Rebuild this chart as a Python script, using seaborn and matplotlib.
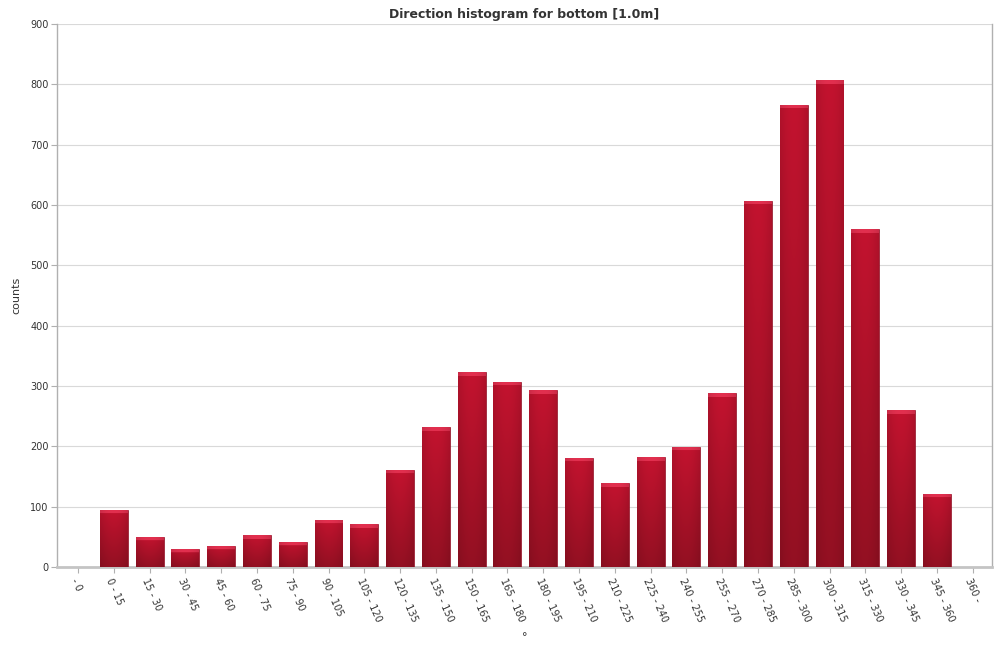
import matplotlib
matplotlib.use("Agg")
import matplotlib.pyplot as plt
import matplotlib.colors as mcolors
import seaborn as sns
import pandas as pd
import numpy as np

categories = ["- 0", "0 - 15", "15 - 30", "30 - 45", "45 - 60", "60 - 75", "75 - 90",
              "90 - 105", "105 - 120", "120 - 135", "135 - 150", "150 - 165", "165 - 180",
              "180 - 195", "195 - 210", "210 - 225", "225 - 240", "240 - 255", "255 - 270",
              "270 - 285", "285 - 300", "300 - 315", "315 - 330", "330 - 345", "345 - 360", "360 -"]
counts = [0, 95, 50, 30, 35, 53, 42, 78, 71, 161, 232, 323, 307, 293, 181, 139, 182, 199,
          288, 607, 766, 807, 560, 260, 121, 0]
yticks = [0, 100, 200, 300, 400, 500, 600, 700, 800, 900]

df = pd.DataFrame({"direction": categories, "counts": counts})

sns.set_theme(style="white")
plt.rcParams['font.family'] = ['DejaVu Sans']

fig = plt.figure(figsize=(10.03, 6.56), dpi=100)
ax = fig.add_axes([57/1003, 1-567/656, (992-57)/1003, (567-24)/656])

sns.barplot(data=df, x="direction", y="counts", order=categories, color="#b5152f",
            saturation=1, width=0.78, edgecolor="#8e1024", linewidth=0.5, ax=ax, zorder=3)

XLIM = (-0.587, 25.54)
ax.set_xlim(*XLIM)
ax.set_ylim(0, 900)

# gradient shading of each bar (styling only; geometry taken from seaborn patches)
top_c = np.array(mcolors.to_rgb("#c3132f"))
bot_c = np.array(mcolors.to_rgb("#931022"))
cap_c = np.array(mcolors.to_rgb("#e2304f"))
px_per_unit = (567 - 24) / 900.0
for p in ax.patches:
    x0, y0 = p.get_x(), p.get_y()
    w, h = p.get_width(), p.get_height()
    if h <= 0:
        continue
    hpx = max(int(round(h * px_per_unit)), 2)
    t = np.linspace(0, 1, hpx)[:, None]
    col = top_c[None, :] * (1 - t) + bot_c[None, :] * t
    cap = min(4, hpx)
    col[:cap] = cap_c
    ncols = 30
    s = np.linspace(-1, 1, ncols)
    shade = 1 - 0.10 * s ** 2
    img = col[:, None, :] * shade[None, :, None]
    img = np.clip(img, 0, 1)
    im = ax.imshow(img, extent=(x0, x0 + w, y0, y0 + h), origin="upper",
                   aspect="auto", zorder=3.5, interpolation="bilinear")
    im.set_clip_path(p)
ax.set_xlim(*XLIM)
ax.set_ylim(0, 900)

ax.set_yticks(yticks)
ax.set_yticklabels([str(v) for v in yticks], fontsize=7, color="#333333")
ax.set_xticks(range(len(categories)))
ax.set_xticklabels(categories, rotation=-66, ha="left", va="top", rotation_mode="anchor",
                   fontsize=7, color="#333333")
ax.grid(axis="y", color="#d9d9d9", linewidth=0.8, zorder=0)
ax.set_axisbelow(True)

for side in ["left", "bottom", "right"]:
    ax.spines[side].set_visible(True)
    ax.spines[side].set_color("#b0b0b0")
    ax.spines[side].set_linewidth(1.0)
ax.spines["top"].set_visible(False)
ax.spines["bottom"].set_linewidth(2.0)
ax.spines["bottom"].set_color("#c4c4c4")

ax.tick_params(axis="y", left=True, length=4, width=0.8, color="#b0b0b0", pad=2)
ax.tick_params(axis="x", bottom=True, length=4, width=0.8, color="#b0b0b0", pad=3)

ax.set_title("Direction histogram for bottom [1.0m]", fontsize=9, fontweight="bold",
             color="#333333", pad=4)
ax.set_ylabel("counts", fontsize=8, color="#333333", labelpad=6)
ax.set_xlabel("°", fontsize=8, color="#333333", labelpad=6)

fig.savefig("out.png", dpi=100)
